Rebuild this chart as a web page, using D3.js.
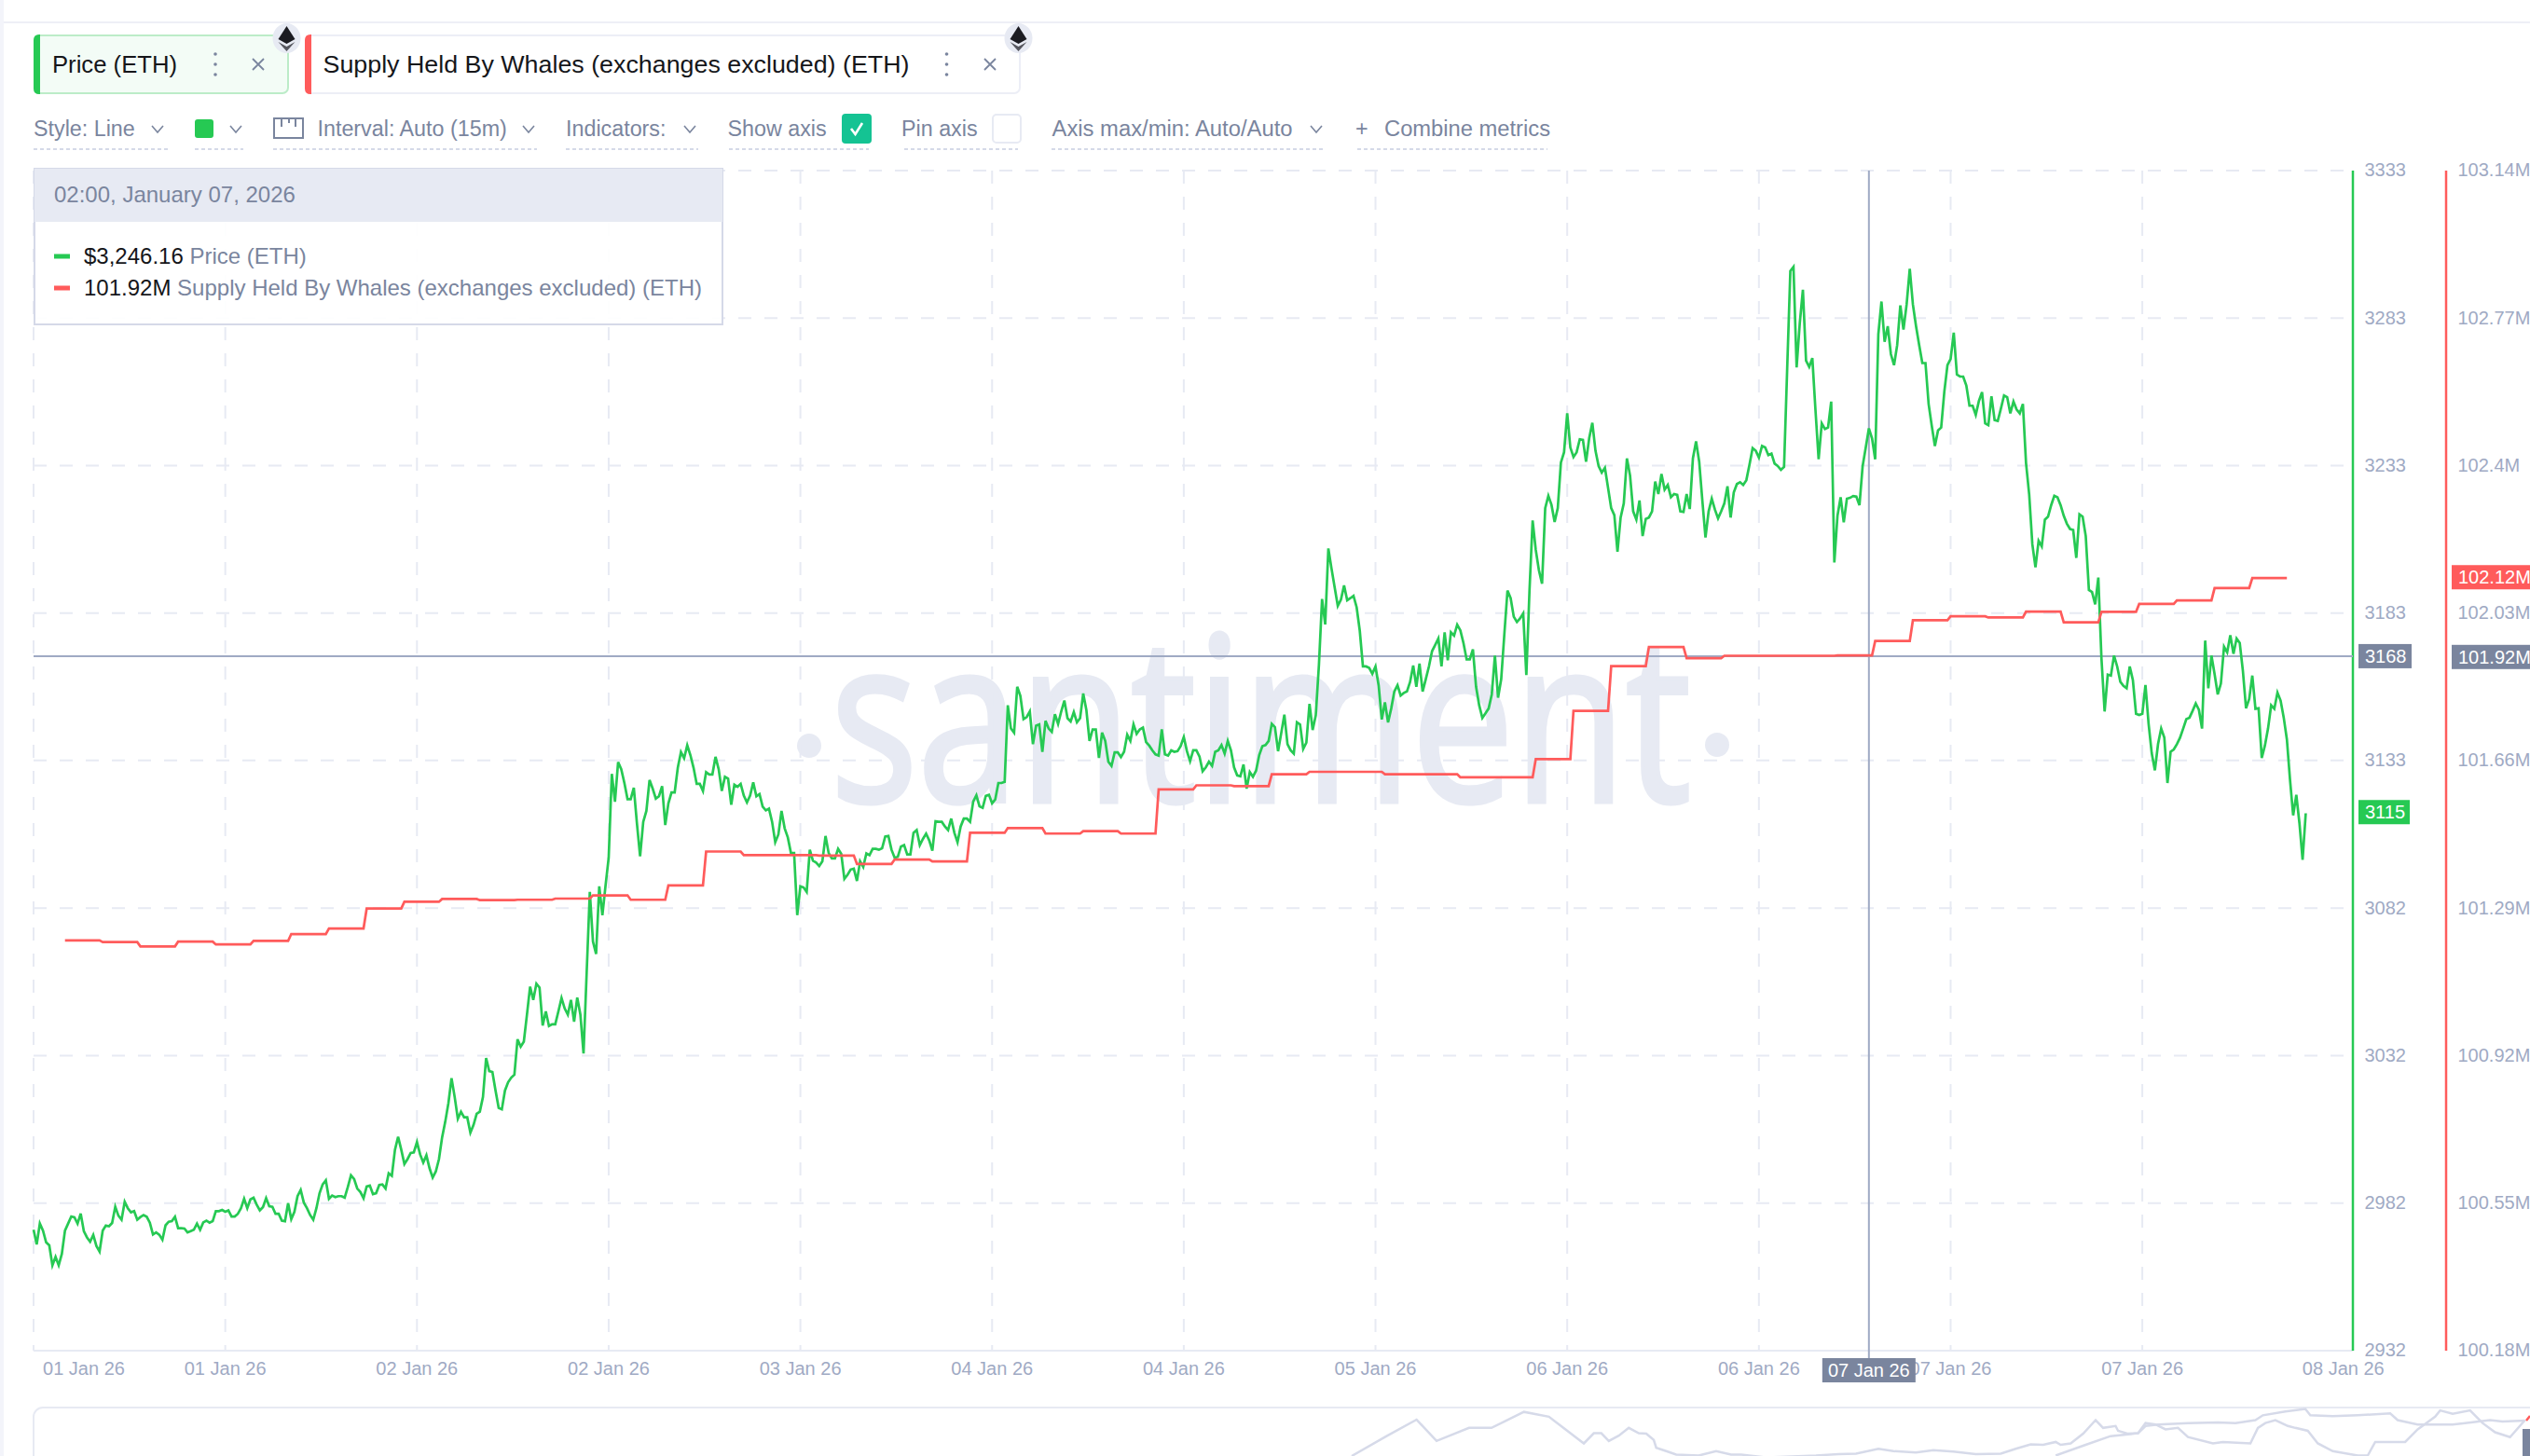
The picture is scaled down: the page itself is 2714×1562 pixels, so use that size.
<!DOCTYPE html>
<html>
<head>
<meta charset="utf-8">
<title>Price (ETH) vs Supply Held By Whales</title>
<script src="https://cdn.jsdelivr.net/npm/d3@7"></script>
<style>
    html, body { margin: 0; padding: 0; background: #fff; overflow: hidden; }
    svg { display: block; }
    text { font-family: "Liberation Sans", Arial, sans-serif; }
</style>
</head>
<body>
<div id="chart"></div>
<script>
// Price (ETH), one value per 15 minute bar.
let priceValues = [
    2973.1,2968.1,2975.2,2972.8,2968.8,2967.8,2961,2963.9,2961,2964.9,
    2972.8,2975.2,2977.6,2977.3,2975.2,2978.6,2972.6,2970.5,2969,2971.3,
    2967.6,2965.7,2972.8,2974.5,2974.3,2975.4,2980.9,2977.9,2976.5,2982.6,
    2980.4,2979,2979.4,2976.5,2977.4,2978.1,2977.5,2975.5,2971.5,2972.2,
    2971.4,2969.7,2974.6,2975.8,2976,2977.5,2973.6,2973.6,2973.5,2972.2,
    2972.6,2973.1,2975.2,2973.1,2975.6,2976.2,2975.5,2976,2979.4,2979.4,
    2979.8,2979.2,2979.7,2977.6,2977.6,2978.5,2980.4,2983.6,2980.4,2983.4,
    2984,2981.6,2979.7,2980.8,2983.8,2981.1,2980.9,2978.5,2978.5,2976.2,
    2976,2982.1,2976.7,2979.2,2984.5,2986.6,2982.3,2980.4,2978.1,2976.5,
    2980.4,2985.5,2988.5,2989.9,2983.6,2984.7,2984.2,2984.5,2984.5,2984,
    2987.6,2991.6,2990.3,2987.1,2985.9,2983.8,2987.8,2988.1,2985.2,2985.5,
    2988.3,2988.5,2987.1,2992.3,2991.4,3000.3,3004.7,3000.3,2995.4,2997.1,
    2999.2,2999.4,3002.9,2998.7,2995.9,2998.4,2994,2990.8,2992.9,2997.1,
    3004.5,3009.8,3016.1,3024.6,3018.2,3010.8,3013.2,3011.3,3011.3,3006.1,
    3008.7,3012.5,3013.2,3018.2,3031.4,3027,3026.7,3020.4,3014.5,3014,
    3020.4,3023.2,3024.8,
    3025.8,3037.8,3035.3,3037,3046.2,3055.7,3051.2,3056.7,3055.4,3042.5,
    3047.3,3042.3,3042.9,3042.9,3047.3,3051.8,3048.3,3046.2,3051.2,3043.8,
    3052,3046.2,3033,3060.5,3087.9,3071,3066.8,3089.8,3080,3090,
    3099.5,3128,3118.5,3132,3129.6,3124.9,3119.4,3119.4,3123.3,3111.1,
    3100,3111.7,3115.4,3125.9,3123,3119.6,3120.4,3123.8,3110.6,3118,
    3121.7,3121.7,3130.1,3135.4,3133.3,3137.7,3134.4,3130.1,3124.6,3124.6,
    3122.2,3128.6,3127.8,3127.8,3133.8,3129.6,3122.2,3127,3126.4,3117.5,
    3124.3,3123.6,3124.6,3120.6,3118.3,3120.6,3125.1,3120.4,3121.1,3116.9,
    3115.6,3116.2,3111.7,3104.8,3107.4,3115.4,3109.5,3106.4,3101.1,3101.1,
    3080,3089.8,3089.4,3087.9,3102.2,3098.5,3097.9,3096.7,3098.3,3106.9,
    3101.1,3099.3,3099.3,3102.5,3100.8,3092.3,3093.7,3095.5,3095.8,3091.6,
    3098.3,3096.4,3101,3100.4,3102.5,3102.5,3102.2,3102.7,3106.7,3106.9,
    3102.2,3099.5,
    3099.8,3103.3,3103.8,3100.6,3100.6,3108,3108.9,3103.8,3105.9,3107.7,
    3105.4,3101.9,3111.9,3111.7,3111.7,3110.1,3108.9,3112.8,3108,3104.8,
    3110.1,3112.8,3112.8,3111.7,
    3118.6,3120.7,3117,3116.5,3120.5,3120.9,3118,3119.3,3124.9,3124.9,
    3125.3,3151.3,3143.4,3142,3157.6,3154.5,3146.6,3147.3,3149.2,3138.1,
    3144.4,3144.8,3135.5,3146,3143.4,3142.3,3148.3,3145,3149.2,3152.9,
    3146.9,3145.8,3149,3145.5,3146.9,3155.3,3149.7,3139.2,3143.1,3143.1,
    3133.4,3142,3139.2,3132.1,3130.7,3135.3,3135.3,3133.7,3135.5,3141.3,
    3139.2,3144.8,3141.6,3143.1,3143.7,3138.8,3137.6,3136,3134.6,3134.2,
    3143.1,3134.6,3134.2,3136,3135.5,3135.7,3137.4,3140.5,3135.7,3132.3,
    3136,3136,3133.9,3128.9,3130.2,3132.1,3130.7,3135.5,3136,3137.8,
    3134.9,3139.2,3136,3130.2,3127.5,3127.2,3131.2,3123,3128.6,3127,
    3129.1,3134.4,3137.4,3137.8,3139.2,3145,3143.9,3135.7,3141.8,3148.1,
    3138.1,3136,3134.9,3145.5,3144.8,3136.5,3138.6,3151.8,3142.9,3147.9,
    3165,3187.4,3178.8,3204.6,3197.8,3191.4,3185.1,3187.2,3192,3187,
    3187.7,3188.5,3184.6,3176.6,3164.5,3164.5,3164,
    3162,3164.5,3158.1,3146.5,3152.3,3145.5,3150.2,3156,3158.1,3154.6,
    3155.5,3156,3159.2,3164.8,3157.6,3165.5,3156,3160.2,3164.5,3169.7,
    3171.8,3174,3164.5,3176.1,3166.6,3176.1,3175,3178.7,3176.8,3172.4,
    3166.9,3166.9,3170.3,3157.6,3151.3,3147,3148.6,3150.2,3155,3168.2,
    3153.9,3160.2,3175.5,3190.3,3187.7,3181.4,3179.6,3180.8,3182.5,3161.6,
    3190.3,3214.1,3204.1,3197.2,3192.6,3218.3,3222.5,3219.4,3213.6,3218.3,
    3233.8,3237.3,3250.5,3238.9,3235.7,3237.3,3241.7,3241.5,3234.1,3242.1,
    3247.3,3237.8,3232.6,3230.4,3232,3225.2,3218.3,3215.9,3203.5,3215.1,
    3219.9,3235.2,3229.4,3217.2,3214.4,3220.9,3208.8,3214.6,3215.1,3217.2,
    3227.3,3223.1,3229.9,3224.6,3226.2,3222,3223.1,3222.8,3217.2,3217,
    3223.1,3218,3235.2,3241,3234.1,3220.9,3208.3,3217.2,3221.5,3217.8,
    3214.8,3217.2,3219.9,3225.7,3215.1,3223.6,3226.5,3227.1,3226.2,3227.8,
    3233.1,3238.7,3237.8,3235.5,3239.4,3238.9,3236.3,3236.8,3233.4,3232.6,
    3231.3,3232.3,
    3265.8,3298.9,3300.3,3266.1,3281.1,3292.5,3268.4,3266.3,3269.3,3251.6,
    3234.9,3247.1,3245.2,3245.7,3254.5,3199.8,3215.7,3222,3213.5,3221.5,
    3221.8,3222.4,3222.2,3219.3,3232.5,3238.9,3245.4,3242,3234.9,3277.4,
    3288.5,3274.8,3280.1,3270.6,3266.9,3273.7,3287.2,3279,3287.5,3299.6,
    3287.5,3280.1,3273.7,3267.6,3267.6,3253.7,3246.3,3239.4,3244.7,3245.7,
    3257.9,3266.9,3269,3277.9,3263.7,3263,3263,3260,3253.1,3253.1,
    3250,3254.7,3257.7,3247.1,3246.5,3256.3,3248.2,3247.9,3252.1,3256.6,
    3256,3250.5,3254.5,3251.8,3250.5,3253.7,3233.6,3223,3206.1,3198.2,
    3207.2,3205.3,3214.4,3215.4,3219.3,3222.5,3222,3219.3,3215.7,3213,
    3211.2,3210.9,3201.4,3216.2,3215.4,3208.8,3190.5,3189.8,3185.6,3194.7,
    3167.2,3149.2,3161.7,3161.4,3168.2,3164.5,3159.3,3157.9,3157.1,3164.5,
    3159.8,3148.4,3148,3148.4,3158.2,3145,3135,3129.2,3138.1,3143.4,
    3140.3,3124.9,3135.5,3136.3,3138.1,3140.3,3143.4,3146.6,3147.1,3149.4,
    3151.9,3149.8,3143.4,3173.3,3157.1,3168.2,3161.9,3155,3158.7,3171.2,
    3169.3,3175.1,3168.8,3174,3172.5,3163,3150.3,3153.4,3161.4,3150.1,
    3150.3,3133.4,3137.6,3143.4,3151.3,3150.1,3155.6,3152.9,3147.1,3139.7,
    3126,3113.9,3120.9,3111.2,3098.8,3114.6
];

// Supply held by whales in millions, one value every 3 hours (12 bars).
let supplyValues = [
    101.209,101.205,101.194,101.206,101.199,101.208,101.225,101.239,101.289,101.306,
    101.313,101.310,101.311,101.314,101.322,101.311,101.347,101.432,101.423,101.423,
    101.422,101.401,101.412,101.407,101.479,101.491,101.477,101.483,101.477,101.588,
    101.598,101.596,101.626,101.632,101.632,101.626,101.626,101.618,101.618,101.664,
    101.785,101.897,101.945,101.917,101.923,101.923,101.923,101.924,101.960,102.012,
    102.022,102.019,102.034,102.007,102.033,102.053,102.062,102.093,102.118
];
let supplyFirstBar = 10;
let supplyStepBars = 12;

// Axis ticks.
let tickBars = [0, 61, 122, 183, 244, 305, 366, 427, 488, 549, 610, 671, 732];
let tickLabels = ["01 Jan 26", "01 Jan 26", "02 Jan 26", "02 Jan 26", "03 Jan 26", "04 Jan 26", "04 Jan 26",
                  "05 Jan 26", "06 Jan 26", "06 Jan 26", "07 Jan 26", "07 Jan 26", "08 Jan 26"];
let priceTicks = [2932, 2982.1, 3032.25, 3082.4, 3132.6, 3182.6, 3232.75, 3282.9, 3333];
let supplyTicks = [100.18, 100.55, 100.92, 101.29, 101.66, 102.03, 102.4, 102.77, 103.14];

// Hovered point and the latest values.
let hoverBar = 584;
let hoverPrice = 3168;
let hoverSupply = 101.92;
let lastPrice = 3115;
let lastSupply = 102.12;

// Navigator overview: percent of the strip width and relative level.
let navPricePos = [52.8,54.2,55.4,56.2,57.5,58.4,59.7,60.7,62.1,62.5,62.8,63.1,63.5,63.9,64.3,64.6,64.9,65,65.4,65.8,66.7,67.4,68,68.4,69.4,71.4,72.3,73,73.9,74.5,75.4,76.1,76.9,77.8,78.8,79.4,80,80.5,81,81.2,81.6,82.1,82.6,82.9,83.4,83.5,83.9,84.3,84.6,85,85.4,85.9,86.3,87.3,87.7,88.8,89.1,89.4,89.8,90.3,90.6,91.1,91.5,92.1,93.1,93.5,93.8,95,95.5,96.2,96.4,96.9,97.6,98.1,98.6,99.2,99.8];
let navPriceLevel = [0,41,75,31,58,58,91,81,26,47,47,31,42,58,47,46,33,17,10,3,1,10,3,3,-3,1,4,5,15,10,7,12,9,4,5,15,24,23,29,23,26,46,74,58,62,52,46,47,68,65,55,58,39,26,29,26,58,68,74,62,58,52,26,10,1,1,29,29,55,81,94,87,94,68,49,39,74];
let navSupplyPos = [81,82.2,83.2,84.3,84.6,85.1,86.3,87.5,88.2,89,89.3,90.2,91,91.2,92.1,93.1,94.4,94.7,95.5,96.9,97.4,98.4,98.9,99.8];
let navSupplyLevel = [1,23,41,47,62,65,68,69,68,74,84,92,97,84,82,84,88,74,65,65,68,74,71,73];

// Colours used in the chart.
let green = '#26c953', red = '#ff5b5b', gridColor = '#e7eaf3', axisText = '#9faac4',
    greyText = '#7a859e', hoverColor = '#9faac4', tagColor = '#7a859e', darkText = '#15161a';

// Set margin for the layout
let svgWidth = 2714, svgHeight = 1562;
let plot = { left: 36, right: 2524, top: 183, bottom: 1449, supplyAxis: 2624 };

let svg = d3.select('#chart')
            .append('svg')
            .attr('width', svgWidth)
            .attr('height', svgHeight);

// Scales
let xScale = d3.scaleLinear().domain([0, 738]).range([plot.left, plot.right]);
let priceScale = d3.scaleLinear().domain([2932, 3333]).range([plot.bottom, plot.top]);
let supplyScale = d3.scaleLinear().domain([100.18, 103.14]).range([plot.bottom, plot.top]);
let navX = d3.scaleLinear().domain([0, 100]).range([36, 2714]);
let navY = d3.scaleLinear().domain([0, 100]).range([1562, 1510]);

// Page frame lines
svg.append('rect').attr('x', 0).attr('y', 0).attr('width', 4).attr('height', svgHeight).attr('fill', '#f3f4fa');
svg.append('line').attr('x1', 4).attr('x2', svgWidth).attr('y1', 24).attr('y2', 24)
    .attr('stroke', '#eeeff6').attr('stroke-width', 2);

// Watermark behind everything
let mark = svg.append('g').attr('fill', gridColor);
mark.append('text')
    .attr('x', 891).attr('y', 860)
    .attr('font-size', 245)
    .style('font-family', '"Open Sans"')
    .attr('stroke', gridColor)
    .attr('stroke-width', 5)
    .attr('textLength', 923)
    .attr('lengthAdjust', 'spacingAndGlyphs')
    .text('santiment');
mark.append('circle').attr('cx', 868).attr('cy', 800).attr('r', 13);
mark.append('circle').attr('cx', 1842).attr('cy', 799).attr('r', 13);

// Grid
let gridGrp = svg.append('g')
    .attr('stroke', gridColor)
    .attr('stroke-width', 2)
    .attr('stroke-dasharray', '14 14');

gridGrp.selectAll('.h-grid')
    .data(priceTicks.slice(1))
    .enter()
    .append('line')
    .attr('x1', plot.left)
    .attr('x2', plot.right - 10)
    .attr('y1', d => priceScale(d))
    .attr('y2', d => priceScale(d));

gridGrp.selectAll('.v-grid')
    .data(tickBars.slice(0, -1))
    .enter()
    .append('line')
    .attr('x1', d => xScale(d))
    .attr('x2', d => xScale(d))
    .attr('y1', plot.top)
    .attr('y2', plot.bottom);

// Bottom axis
let xAxis = d3.axisBottom(xScale)
    .tickValues(tickBars)
    .tickFormat((d, i) => tickLabels[i])
    .tickSize(0)
    .tickPadding(11.5)
    .offset(0);

let xAxisGrp = svg.append('g')
    .attr('transform', `translate(0, ${plot.bottom})`)
    .call(xAxis);
xAxisGrp.select('.domain').attr('stroke', gridColor).attr('stroke-width', 2);
xAxisGrp.selectAll('text')
    .attr('fill', axisText)
    .attr('font-size', 20)
    .style('font-family', '"Liberation Sans"')
    .attr('dx', (d, i) => i == 0 ? 54 : (i == tickBars.length - 1 ? 10 : 0));

// Right axes
function drawYAxis(scale, ticks, xPos, color, fmt) {
    let axis = d3.axisRight(scale)
        .tickValues(ticks)
        .tickFormat(fmt)
        .tickSize(0)
        .tickPadding(12.5)
        .offset(0);
    let grp = svg.append('g')
        .attr('transform', `translate(${xPos}, 0)`)
        .call(axis);
    grp.select('.domain').attr('stroke', color).attr('stroke-width', 2.5);
    grp.selectAll('text')
        .attr('fill', axisText)
        .attr('font-size', 20)
        .style('font-family', '"Liberation Sans"');
}
drawYAxis(priceScale, priceTicks, plot.right, green, d3.format('.0f'));
drawYAxis(supplyScale, supplyTicks, plot.supplyAxis, red, d => d + 'M');

// Crosshair
svg.append('line')
    .attr('x1', plot.left).attr('x2', plot.right)
    .attr('y1', priceScale(hoverPrice)).attr('y2', priceScale(hoverPrice))
    .attr('stroke', hoverColor).attr('stroke-width', 2);
svg.append('line')
    .attr('x1', xScale(hoverBar)).attr('x2', xScale(hoverBar))
    .attr('y1', plot.top).attr('y2', 1458)
    .attr('stroke', hoverColor).attr('stroke-width', 2);

// Series lines
let priceLine = d3.line()
    .x((d, i) => xScale(i))
    .y(d => priceScale(d));

svg.append('path')
    .datum(priceValues)
    .attr('d', priceLine)
    .attr('fill', 'none')
    .attr('stroke', green)
    .attr('stroke-width', 2.7)
    .attr('stroke-linejoin', 'miter');

// each supply value is held for its 3 hour step, then moves to the next one
let supplyPoints = supplyValues.flatMap((d, i) => [
    [supplyFirstBar + i * supplyStepBars, d],
    [supplyFirstBar + i * supplyStepBars + supplyStepBars - 1, d]
]);
let supplyLine = d3.line()
    .x(d => xScale(d[0]))
    .y(d => supplyScale(d[1]));

svg.append('path')
    .datum(supplyPoints)
    .attr('d', supplyLine)
    .attr('fill', 'none')
    .attr('stroke', red)
    .attr('stroke-width', 2.7);

// Value tags on the axes
function valueTag(x, yCenter, w, color, label) {
    svg.append('rect')
        .attr('x', x).attr('y', yCenter - 13)
        .attr('width', w).attr('height', 26)
        .attr('fill', color);
    svg.append('text')
        .attr('x', x + 7).attr('y', yCenter)
        .attr('dy', '.34em')
        .attr('font-size', 20)
        .attr('fill', '#fff')
        .text(label);
}
valueTag(2530, priceScale(hoverPrice), 57, tagColor, String(hoverPrice));
valueTag(2530, priceScale(lastPrice), 55, green, String(lastPrice));
valueTag(2630, supplyScale(hoverSupply), 84, tagColor, hoverSupply + 'M');
valueTag(2630, supplyScale(lastSupply), 84, red, lastSupply + 'M');

// Date tag under the crosshair
svg.append('rect')
    .attr('x', xScale(hoverBar) - 50).attr('y', 1457)
    .attr('width', 100).attr('height', 26)
    .attr('fill', tagColor);
svg.append('text')
    .attr('x', xScale(hoverBar)).attr('y', 1470)
    .attr('dy', '.34em')
    .attr('text-anchor', 'middle')
    .attr('font-size', 20)
    .attr('fill', '#fff')
    .text('07 Jan 26');

// Navigator strip
svg.append('rect')
    .attr('x', 36).attr('y', 1510)
    .attr('width', 2760).attr('height', 100)
    .attr('rx', 10)
    .attr('fill', '#fff')
    .attr('stroke', gridColor)
    .attr('stroke-width', 2);

let navLine = d3.line()
    .x(d => navX(d[0]))
    .y(d => navY(d[1]));
svg.append('path')
    .datum(d3.zip(navPricePos, navPriceLevel))
    .attr('d', navLine)
    .attr('fill', 'none').attr('stroke', '#d6dae9').attr('stroke-width', 2.5);
svg.append('path')
    .datum(d3.zip(navSupplyPos, navSupplyLevel))
    .attr('d', navLine)
    .attr('fill', 'none').attr('stroke', '#d6dae9').attr('stroke-width', 2.5);
svg.append('rect').attr('x', 2706).attr('y', 1533).attr('width', 8).attr('height', 29).attr('fill', tagColor);
svg.append('line').attr('x1', 2710).attr('x2', 2714).attr('y1', 1524).attr('y2', 1519)
    .attr('stroke', red).attr('stroke-width', 2.5);

// Metric tabs
function metricTab(x, w, color, border, fill, label, textX, textW, dotsX, closeX) {
    svg.append('rect')
        .attr('x', x + 1).attr('y', 38)
        .attr('width', w - 2).attr('height', 62)
        .attr('rx', 6)
        .attr('fill', fill)
        .attr('stroke', border)
        .attr('stroke-width', 2);
    svg.append('path')
        .attr('d', `M${x + 7},37 H${x + 6} Q${x},37 ${x},43 V95 Q${x},101 ${x + 6},101 H${x + 7} Z`)
        .attr('fill', color);
    svg.append('text')
        .attr('x', textX).attr('y', 69)
        .attr('dy', '.35em')
        .attr('font-size', 26)
        .attr('textLength', textW)
        .attr('lengthAdjust', 'spacingAndGlyphs')
        .attr('fill', darkText)
        .text(label);
    svg.selectAll(null)
        .data([58, 69, 80])
        .enter()
        .append('circle')
        .attr('cx', dotsX).attr('cy', d => d).attr('r', 1.8)
        .attr('fill', greyText);
    svg.append('path')
        .attr('d', `M${closeX - 6},63 L${closeX + 6},75 M${closeX + 6},63 L${closeX - 6},75`)
        .attr('stroke', greyText).attr('stroke-width', 1.8);
    // eth mark on the tab corner
    let ex = x + w - 2.5;
    svg.append('ellipse').attr('cx', ex).attr('cy', 41).attr('rx', 15).attr('ry', 16).attr('fill', gridColor);
    svg.append('path')
        .attr('d', `M${ex},28 L${ex + 9},42 L${ex},47 L${ex - 9},42 Z`)
        .attr('fill', '#1c1c22');
    svg.append('path')
        .attr('d', `M${ex - 9},45 L${ex},50 L${ex + 9},45 L${ex},55 Z`)
        .attr('fill', '#55565e');
}
metricTab(36, 274, green, '#bcecc8', '#f3fcf6', 'Price (ETH)', 56, 134, 231, 277);
metricTab(327, 768, red, '#eceef6', '#fff', 'Supply Held By Whales (exchanges excluded) (ETH)', 346.5, 629, 1015.5, 1062);

// Settings row
function settingText(x, label, fitWidth) {
    let t = svg.append('text')
        .attr('x', x).attr('y', 138)
        .attr('dy', '.35em')
        .attr('font-size', 23.3)
        .attr('fill', greyText)
        .text(label);
    if (fitWidth) t.attr('textLength', fitWidth).attr('lengthAdjust', 'spacingAndGlyphs');
}
function chevron(x) {
    svg.append('path')
        .attr('d', `M${x - 6},135 L${x},142 L${x + 6},135`)
        .attr('fill', 'none').attr('stroke', greyText).attr('stroke-width', 1.6);
}
function underline(x1, x2) {
    svg.append('line')
        .attr('x1', x1).attr('x2', x2).attr('y1', 160).attr('y2', 160)
        .attr('stroke', '#d5d9e8').attr('stroke-width', 2)
        .attr('stroke-dasharray', '4 3');
}
settingText(36, 'Style: Line'); chevron(169); underline(36, 180);
svg.append('rect').attr('x', 209).attr('y', 128).attr('width', 20).attr('height', 20).attr('rx', 3).attr('fill', green);
chevron(253); underline(209, 261);
svg.append('path')
    .attr('d', 'M294,127 H325 V148 H294 Z M302,127 V136 M310,127 V132 M317,127 V136')
    .attr('fill', 'none').attr('stroke', greyText).attr('stroke-width', 2);
settingText(340.5, 'Interval: Auto (15m)'); chevron(567); underline(293, 576);
settingText(607, 'Indicators:'); chevron(740); underline(607, 749);
settingText(780.5, 'Show axis'); underline(782, 932);
svg.append('rect').attr('x', 903).attr('y', 122).attr('width', 32).attr('height', 32).attr('rx', 4).attr('fill', '#14c393');
svg.append('path').attr('d', 'M913,138 L917.5,144 L925,132').attr('fill', 'none').attr('stroke', '#fff').attr('stroke-width', 2.6);
settingText(967, 'Pin axis'); underline(970, 1092);
svg.append('rect').attr('x', 1065).attr('y', 123).attr('width', 30).attr('height', 30).attr('rx', 4)
    .attr('fill', '#fff').attr('stroke', gridColor).attr('stroke-width', 2);
settingText(1128.5, 'Axis max/min: Auto/Auto', 258); chevron(1412); underline(1128, 1421);
settingText(1454, '+');
settingText(1485, 'Combine metrics', 178); underline(1456, 1660);

// Tooltip box on top of the plot
svg.append('rect')
    .attr('x', 37).attr('y', 181)
    .attr('width', 738).attr('height', 167)
    .attr('fill', 'rgba(255,255,255,.92)')
    .attr('stroke', '#d5d9e8').attr('stroke-width', 2);
svg.append('rect')
    .attr('x', 37).attr('y', 181)
    .attr('width', 738).attr('height', 57)
    .attr('fill', gridColor);
svg.append('text')
    .attr('x', 58).attr('y', 209)
    .attr('dy', '.35em')
    .attr('font-size', 24)
    .attr('fill', greyText)
    .text('02:00, January 07, 2026');

function tooltipRow(yPos, color, value, label) {
    svg.append('rect')
        .attr('x', 58).attr('y', yPos - 2.5)
        .attr('width', 17).attr('height', 5)
        .attr('fill', color);
    let row = svg.append('text')
        .attr('x', 90).attr('y', yPos)
        .attr('dy', '.35em')
        .attr('font-size', 24);
    row.append('tspan').attr('fill', darkText).text(value + ' ');
    row.append('tspan').attr('fill', greyText).text(label);
}
tooltipRow(275, green, '$3,246.16', 'Price (ETH)');
tooltipRow(309, red, '101.92M', 'Supply Held By Whales (exchanges excluded) (ETH)');
</script>
</body>
</html>
